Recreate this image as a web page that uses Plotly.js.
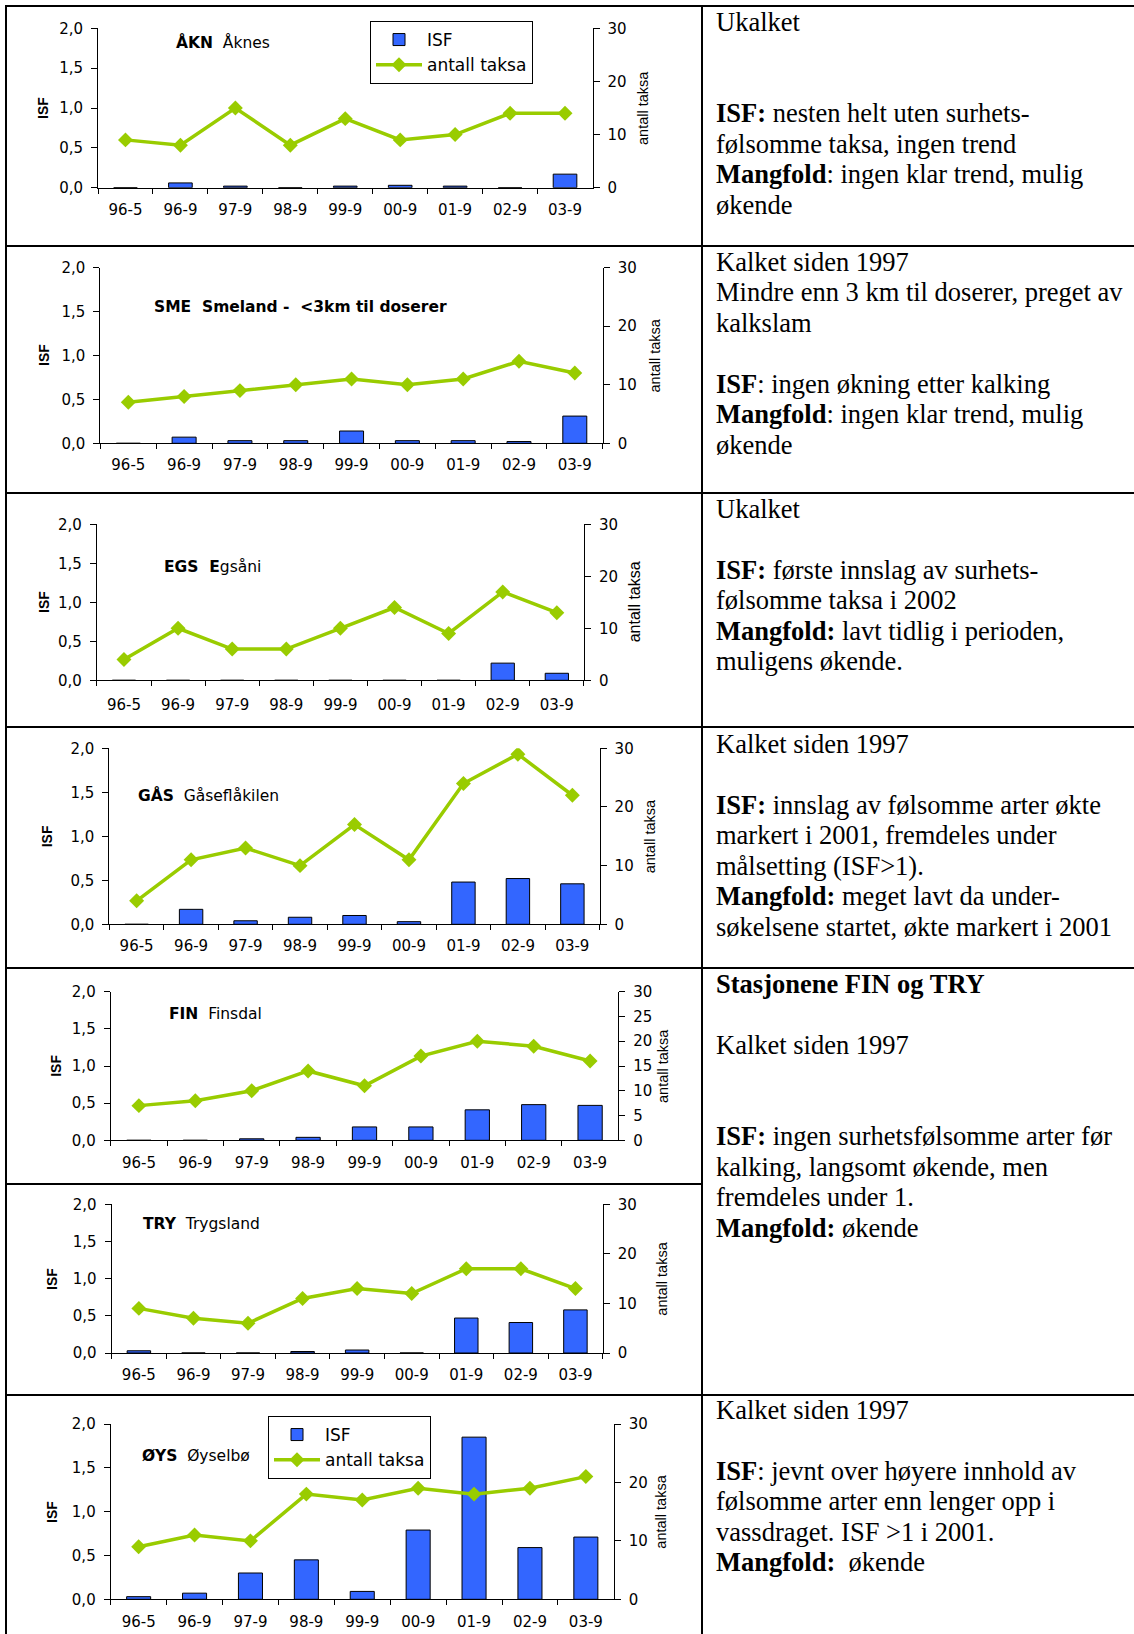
<!DOCTYPE html>
<html><head><meta charset="utf-8">
<script src="https://cdn.plot.ly/plotly-3.0.1.min.js"></script>
<style>html,body{margin:0;padding:0;background:#fff;} #chart{width:1134px;height:1634px;}</style>
</head><body><div id="chart"></div>
<script>
// ---------------- DATA ----------------
const categories = ["96-5","96-9","97-9","98-9","99-9","00-9","01-9","02-9","03-9"];

const isfAKN   = [0, 0.06, 0.02, 0, 0.02, 0.03, 0.02, 0, 0.17];
const taksaAKN = [9, 8, 15, 8, 13, 9, 10, 14, 14];

const isfSME   = [0, 0.07, 0.03, 0.03, 0.14, 0.03, 0.03, 0.02, 0.31];
const taksaSME = [7, 8, 9, 10, 11, 10, 11, 14, 12];

const isfEGS   = [0, 0, 0, 0, 0, 0, 0, 0.22, 0.09];
const taksaEGS = [4, 10, 6, 6, 10, 14, 9, 17, 13];

const isfGAS   = [0, 0.17, 0.04, 0.08, 0.10, 0.03, 0.48, 0.52, 0.46];
const taksaGAS = [4, 11, 13, 10, 17, 11, 24, 29, 22];

const isfFIN   = [0, 0, 0.02, 0.04, 0.18, 0.18, 0.41, 0.48, 0.47];
const taksaFIN = [7, 8, 10, 14, 11, 17, 20, 19, 16];

const isfTRY   = [0.03, 0, 0, 0.02, 0.04, 0, 0.47, 0.41, 0.58];
const taksaTRY = [9, 7, 6, 11, 13, 12, 17, 17, 13];

const isfOYS   = [0.03, 0.07, 0.30, 0.45, 0.09, 0.79, 1.85, 0.59, 0.71];
const taksaOYS = [9, 11, 10, 18, 17, 19, 18, 19, 21];

const seriesNames = ["ISF", "antall taksa"];
const leftTitle = "ISF";
const rightTitle = "antall taksa";

const stationTitles = [
  "<b>ÅKN</b>\u00a0\u00a0Åknes",
  "<b>SME\u00a0\u00a0Smeland -\u00a0\u00a0&lt;3km til doserer</b>",
  "<b>EGS\u00a0\u00a0E</b>gsåni",
  "<b>GÅS</b>\u00a0\u00a0Gåseflåkilen",
  "<b>FIN</b>\u00a0\u00a0Finsdal",
  "<b>TRY</b>\u00a0\u00a0Trygsland",
  "<b>ØYS</b>\u00a0\u00a0Øyselbø"
];

const textBlocks = [
  ["Ukalket", "", "", "<b>ISF:</b> nesten helt uten surhets-", "følsomme taksa, ingen trend", "<b>Mangfold</b>: ingen klar trend, mulig", "økende"],
  ["Kalket siden 1997", "Mindre enn 3 km til doserer, preget av", "kalkslam", "", "<b>ISF</b>: ingen økning etter kalking", "<b>Mangfold</b>: ingen klar trend, mulig", "økende"],
  ["Ukalket", "", "<b>ISF:</b> første innslag av surhets-", "følsomme taksa i 2002", "<b>Mangfold:</b> lavt tidlig i perioden,", "muligens økende."],
  ["Kalket siden 1997", "", "<b>ISF:</b> innslag av følsomme arter økte", "markert i 2001, fremdeles under", "målsetting (ISF&gt;1).", "<b>Mangfold:</b> meget lavt da under-", "søkelsene startet, økte markert i 2001"],
  ["<b>Stasjonene FIN og TRY</b>", "", "Kalket siden 1997", "", "", "<b>ISF:</b> ingen surhetsfølsomme arter før", "kalking, langsomt økende, men", "fremdeles under 1.", "<b>Mangfold:</b> økende"],
  ["Kalket siden 1997", "", "<b>ISF</b>: jevnt over høyere innhold av", "følsomme arter enn lenger opp i", "vassdraget. ISF &gt;1 i 2001.", "<b>Mangfold:</b>\u00a0\u00a0økende"]
];

// ---------------- LAYOUT GEOMETRY (pixels) ----------------
const W = 1134, H = 1634;
const px = v => v / W;
const py = v => 1 - v / H;

const panels = [
  {isf: isfAKN, taksa: taksaAKN, x0: 98,    x1: 592.5, yt: 28.3,   yb: 187.7,  rdt: 10, lab: 8,  isfX: 43,   rX: 643, tX: 174, tY: 43,   rS: 14.5},
  {isf: isfSME, taksa: taksaSME, x0: 100.4, x1: 602.7, yt: 267.7,  yb: 443.3,  rdt: 10, lab: 8,  isfX: 43.5, rX: 654, tX: 152, tY: 307,  rS: 14.5},
  {isf: isfEGS, taksa: taksaEGS, x0: 96.9,  x1: 583.9, yt: 524.3,  yb: 680.3,  rdt: 10, lab: 11, isfX: 44.6, rX: 634, tX: 162, tY: 567,  rS: 16},
  {isf: isfGAS, taksa: taksaGAS, x0: 109.4, x1: 599.6, yt: 748.3,  yb: 924.3,  rdt: 10, lab: 8,  isfX: 47,   rX: 650, tX: 136, tY: 795,  rS: 14.5},
  {isf: isfFIN, taksa: taksaFIN, x0: 110.7, x1: 618.3, yt: 991.7,  yb: 1140.3, rdt: 5,  lab: 9,  isfX: 55.8, rX: 663, tX: 167, tY: 1014, rS: 14.5},
  {isf: isfTRY, taksa: taksaTRY, x0: 111.6, x1: 602.7, yt: 1204.3, yb: 1353,   rdt: 10, lab: 8,  isfX: 51.3, rX: 662, tX: 140.6, tY: 1224, rS: 14.5},
  {isf: isfOYS, taksa: taksaOYS, x0: 110.7, x1: 613.8, yt: 1424,   yb: 1599.3, rdt: 10, lab: 9,  isfX: 51.3, rX: 661, tX: 140, tY: 1456, rS: 14.5}
];

const legendBoxes = [{panel: 0, x: 370, y: 21}, {panel: 6, x: 268, y: 1416}];

const textStarts = [31, 271, 518, 753, 993, 1419];
const textX = 714;
const lineStep = 30.5;
const textSize = 26.5;

const SANS = "Liberation Sans, Arial, sans-serif";
const WIDE = "DejaVu Sans, Verdana, sans-serif";
const SERIF = "Liberation Serif, Times New Roman, serif";
const BLUE = "#3366FF";
const GREEN = "#99CC00";
const tickSize = 15;
const titleSize = 15.5;
const isfTitleSize = 14;

// ---------------- BUILD ----------------
const traces = [];
const layout = {
  width: W, height: H,
  margin: {l: 0, r: 0, t: 0, b: 0},
  paper_bgcolor: "#ffffff",
  plot_bgcolor: "rgba(0,0,0,0)",
  separators: ", ",
  bargap: 0.57,
  showlegend: true,
  annotations: [],
  shapes: []
};

const nP = panels.length;
panels.forEach((p, i) => {
  const n = i + 1;
  const xName = n === 1 ? "x" : "x" + n;
  const xKey = n === 1 ? "xaxis" : "xaxis" + n;
  const lIdx = 2 * n - 1, rIdx = 2 * n;
  const lName = lIdx === 1 ? "y" : "y" + lIdx;
  const lKey = lIdx === 1 ? "yaxis" : "yaxis" + lIdx;
  const rName = "y" + rIdx;
  const rKey = "yaxis" + rIdx;

  const tickFont = {family: WIDE, size: tickSize, color: "#000"};
  const common = {showgrid: false, zeroline: false, fixedrange: true, tickcolor: "#000", tickwidth: 1};

  layout[xKey] = Object.assign({
    domain: [px(p.x0), px(p.x1)], anchor: lName, type: "category",
    range: [-0.5, 8.5], showline: true, linecolor: "#000", linewidth: 1,
    ticks: "outside", tickson: "boundaries", ticklen: 5,
    tickfont: tickFont, ticklabelstandoff: p.lab
  }, common);
  layout[lKey] = Object.assign({
    domain: [py(p.yb), py(p.yt)], anchor: xName, range: [0, 2], dtick: 0.5, tick0: 0,
    tickformat: ".1f", showline: true, linecolor: "#000", linewidth: 1,
    ticks: "outside", ticklen: 6, tickfont: tickFont, ticklabelstandoff: 5
  }, common);
  layout[rKey] = Object.assign({
    overlaying: lName, side: "right", anchor: xName, range: [0, 30], dtick: p.rdt, tick0: 0,
    showline: true, linecolor: "#000", linewidth: 1,
    ticks: "outside", ticklen: 6, tickfont: tickFont, ticklabelstandoff: 5
  }, common);

  // inner halves of the crossing tick marks
  const xi = nP + n;
  layout["xaxis" + xi] = Object.assign({
    overlaying: xName, anchor: lName, side: "bottom", type: "linear",
    range: [-0.5, 8.5], tick0: -0.5, dtick: 1, ticks: "inside", ticklen: 4,
    showticklabels: false, showline: false
  }, common);
  const yiL = 2 * nP + 2 * n - 1, yiR = 2 * nP + 2 * n;
  layout["yaxis" + yiL] = Object.assign({
    overlaying: lName, side: "left", anchor: xName, range: [0, 2], tick0: 0, dtick: 0.5,
    ticks: "inside", ticklen: 5, showticklabels: false, showline: false
  }, common);
  layout["yaxis" + yiR] = Object.assign({
    overlaying: lName, side: "right", anchor: xName, range: [0, 30], tick0: 0, dtick: p.rdt,
    ticks: "inside", ticklen: 5, showticklabels: false, showline: false
  }, common);

  const leg = legendBoxes.findIndex(l => l.panel === i);
  const legName = leg === 0 ? "legend" : (leg === 1 ? "legend2" : undefined);

  traces.push({
    type: "bar", x: categories, y: p.isf, xaxis: xName, yaxis: lName,
    name: seriesNames[0], showlegend: leg >= 0, legend: legName,
    marker: {color: BLUE, line: {color: "#000", width: 1}},
    hoverinfo: "skip"
  });
  traces.push({
    type: "scatter", mode: "lines+markers", x: categories, y: p.taksa, xaxis: xName, yaxis: rName,
    name: seriesNames[1], showlegend: leg >= 0, legend: legName,
    line: {color: GREEN, width: 3.5},
    marker: {symbol: "diamond", size: 11.5, color: GREEN},
    hoverinfo: "skip"
  });

  // station title
  layout.annotations.push({
    xref: "paper", yref: "paper", x: px(p.tX), y: py(p.tY), xanchor: "left", yanchor: "middle",
    text: stationTitles[i], showarrow: false, font: {family: WIDE, size: titleSize, color: "#000"}
  });
  // left axis title
  layout.annotations.push({
    xref: "paper", yref: "paper", x: px(p.isfX), y: py((p.yt + p.yb) / 2), xanchor: "center", yanchor: "middle",
    text: "<b>" + leftTitle + "</b>", textangle: -90, showarrow: false, font: {family: SANS, size: isfTitleSize, color: "#000"}
  });
  // right axis title
  layout.annotations.push({
    xref: "paper", yref: "paper", x: px(p.rX), y: py((p.yt + p.yb) / 2), xanchor: "center", yanchor: "middle",
    text: rightTitle, textangle: -90, showarrow: false, font: {family: SANS, size: p.rS, color: "#000"}
  });
});

legendBoxes.forEach((l, k) => {
  const key = k === 0 ? "legend" : "legend2";
  layout[key] = {
    x: px(l.x), y: py(l.y), xanchor: "left", yanchor: "top",
    bgcolor: "#fff", bordercolor: "#000", borderwidth: 1,
    font: {family: WIDE, size: 17, color: "#000"},
    tracegroupgap: 0, itemwidth: 46, traceorder: "normal"
  };
});

// right column text
textBlocks.forEach((lines, b) => {
  lines.forEach((t, j) => {
    if (!t) return;
    const base = textStarts[b] + j * lineStep;
    layout.annotations.push({
      xref: "paper", yref: "paper", x: px(textX), y: py(base - 0.34 * textSize),
      xanchor: "left", yanchor: "middle", align: "left",
      text: t, showarrow: false, font: {family: SERIF, size: textSize, color: "#000"}
    });
  });
});

// table rules
const rules = [
  [6, 5, 6, 1634], [702, 5, 702, 1634],
  [5, 6, 1134, 6], [5, 246, 1134, 246], [5, 493, 1134, 493], [5, 727, 1134, 727],
  [5, 968, 1134, 968], [5, 1184, 702, 1184], [5, 1395, 1134, 1395]
];
rules.forEach(r => layout.shapes.push({
  type: "line", xref: "paper", yref: "paper",
  x0: px(r[0]), y0: py(r[1]), x1: px(r[2]), y1: py(r[3]),
  line: {color: "#000", width: 2}
}));

Plotly.newPlot("chart", traces, layout, {staticPlot: true, displayModeBar: false});
</script>
</body></html>
